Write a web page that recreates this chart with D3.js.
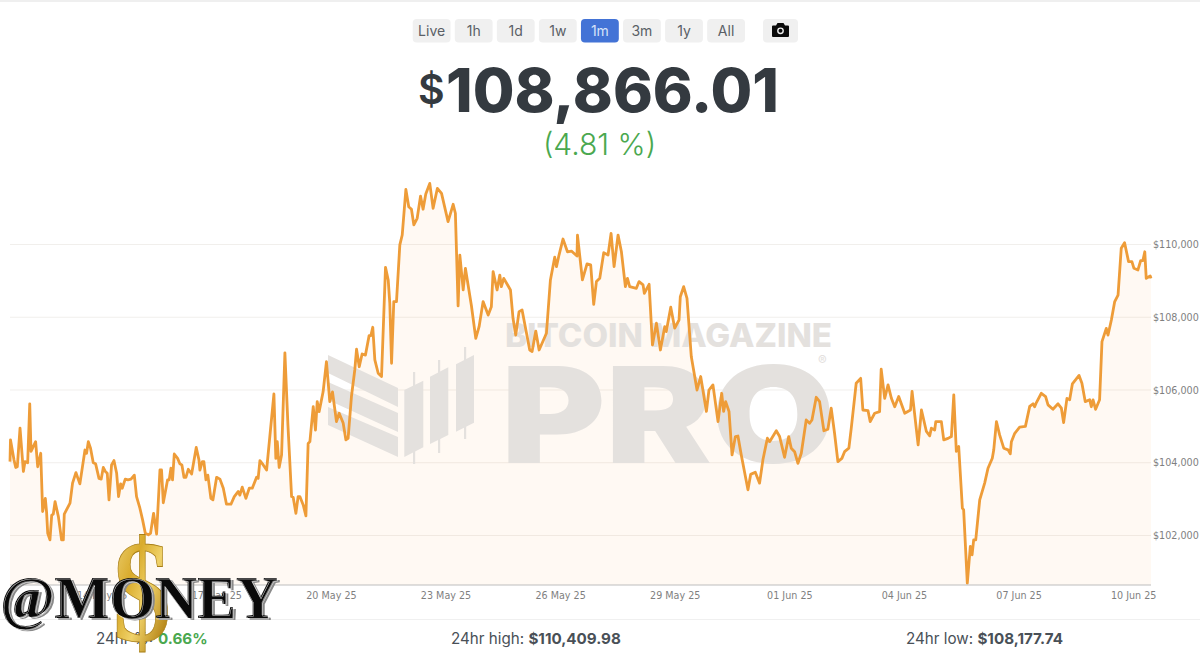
<!DOCTYPE html>
<html>
<head>
<meta charset="utf-8">
<script src="https://cdn.jsdelivr.net/npm/d3@7"></script>
<style>
  html, body { margin: 0; padding: 0; background: #fff; }
  svg { display: block; font-family: Inter, "Noto Sans", sans-serif; }
  .axis text { font-family: "DejaVu Sans", sans-serif; font-size: 9.6px; fill: #7f7f7f; }
  .axis .domain { display: none; }
</style>
</head>
<body>
<div id="chart"></div>
<script>
// hours since the first sample (11 May 25, 14:24 UTC)
const hours = [
  0, 0.3, 2.5, 3.6, 4.6, 6.3, 8.4, 9.4, 11.1, 12.4, 13.2, 16.1, 17.4, 19.3, 20.5, 22.2, 23, 23.7, 25.1, 26.2,
  27.2, 28.3, 30.4, 32.4, 33.5, 34.1, 37.7, 39.3, 41.4, 43.9, 47.1, 48.1, 49.2, 50.6, 52.3, 53.8, 55.9, 57.3, 58.6, 59.9,
  61.1, 62.2, 63.8, 65.3, 67, 68.2, 69.5, 70.5, 72.4, 74.1, 76, 78.1, 79.5, 81.6, 83.3, 85, 86.9, 88.3, 90.2, 92.1,
  94.2, 95.2, 96.3, 99, 100, 101.1, 102.1, 103.2, 105.3, 106.7, 108, 109.3, 110.5, 112, 114.1, 117, 118.7, 119.3, 120.8, 121.8,
  123.1, 124.3, 126.2, 127.5, 129.8, 131.9, 134, 136, 138.8, 140.9, 143.4, 144.4, 145.9, 148.2, 150.3, 152.2, 154.9, 155.9, 157, 159.1,
  161.2, 165.8, 167, 167.9, 169.1, 170.6, 172.7, 174.6, 176.9, 177.9, 179.6, 181, 182.1, 184.2, 185.9, 187.3, 188.4, 190.5, 191.9, 193,
  194.2, 196.7, 198.8, 200.9, 202.6, 205.1, 206.8, 209.3, 211, 212.4, 214.5, 216.6, 217.7, 219.4, 221.2, 223.3, 225.6, 226.7, 227.9, 229.2,
  231.3, 233.4, 235.9, 237.6, 238.6, 239.7, 241.1, 242.8, 244.9, 246.4, 248.7, 250.5, 252.2, 253.7, 255.8, 257.9, 259.5, 261.2, 263.7, 265.8,
  268.5, 271.1, 275.2, 278.4, 279.8, 281.5, 282.6, 284.7, 286.1, 289.9, 292.6, 294.7, 297.2, 300.4, 302.4, 303.5, 306, 307.7, 308.7, 310.2,
  314.4, 316, 317.7, 319.8, 321.7, 326.5, 328, 330.3, 332.4, 337, 339.5, 342.2, 343.3, 344.9, 347.4, 350.2, 352.7, 356.2, 356.5, 359.6,
  362.5, 364.8, 366.7, 368.4, 370.5, 373, 375.7, 377.6, 379.5, 382, 384.1, 386.6, 387.9, 389.3, 393.5, 395.2, 397.7, 398.5, 401.5, 403.6,
  406.1, 408.6, 411.3, 412.3, 415.1, 417.6, 420.3, 421.1, 423.2, 425.3, 428, 431.6, 433.9, 437.5, 439.1, 441.6, 444.8, 447.1, 448.3, 449.6,
  451.7, 453.6, 455.7, 457.3, 459.4, 463.6, 465.3, 468.2, 470.9, 473, 475.8, 477.2, 481.4, 483.5, 486.6, 489.2, 490.8, 492.9, 495, 497.1,
  500.2, 502.3, 503.8, 506.5, 508.6, 511.3, 513.8, 515.9, 518, 520.1, 522.6, 524.3, 527, 528.5, 531.6, 534.4, 535.8, 539, 540.4, 543.2,
  546.3, 547.3, 549.5, 551.6, 553.7, 555.8, 558.3, 562.1, 565.7, 566.7, 570.5, 572.6, 575.7, 577.8, 578.8, 580.9, 581.6, 585.1, 586.6, 589.3,
  591.4, 592.9, 594.5, 596, 598.3, 599.1, 601.4, 603.3, 604.4, 605.4, 606.7, 609.2, 612.3, 614.4, 617.1, 618, 619.7, 621.7, 624.3, 627,
  628.4, 629.1, 631.2, 634.3, 637.9, 640.6, 642.7, 643.7, 644.8, 647.9, 650.6, 652.1, 655.2, 658.4, 660.5, 661.9, 664, 665.7, 667.4, 671.6,
  673.4, 675.5, 678.3, 679.3, 680.4, 682, 684.5, 686, 688.7, 689.8, 691.9, 694, 696.1, 698.1, 700.2, 702.7, 704.8, 706.1, 708.6, 710.3,
  711.7, 712.9, 713.8, 716.3, 716.8
];

const prices = [
  104030, 104630, 104080, 103870, 103890, 104950, 103760, 104030, 104000, 105620, 104310, 104580, 103890, 104260, 102660, 103020, 102630, 102060, 101880, 102560,
  102590, 102930, 102520, 101880, 101880, 102590, 102890, 103440, 103730, 103420, 104350, 104260, 104580, 104400, 104000, 103970, 103570, 103550, 103870, 103760,
  103710, 102980, 103940, 104060, 103710, 103070, 103420, 103300, 103550, 103530, 103550, 103660, 103070, 102750, 102430, 102060, 102020, 102060, 102610, 102040,
  103800, 103800, 102900, 103530, 103530, 103850, 103530, 104240, 104120, 103970, 103940, 103600, 103600, 103820, 103690, 104420, 104080, 103800, 104030, 104030,
  103530, 103660, 103020, 102980, 103600, 103550, 103300, 102860, 102860, 103070, 103210, 103110, 103330, 103020, 103300, 103300, 103600, 103570, 104060, 103940,
  103800, 105890, 104120, 104580, 103870, 104210, 107020, 105040, 103070, 103050, 102610, 103070, 103070, 102840, 102540, 104530, 104580, 105540, 104900, 105680,
  105405, 105950, 106780, 105680, 105950, 105130, 105360, 105090, 104630, 104670, 105820, 106550, 107120, 106640, 106990, 106960, 107495, 107495, 107725, 106830,
  106460, 106370, 109370, 109025, 108384, 106735, 108430, 108430, 109990, 110260, 111515, 111040, 110970, 110540, 110720, 111330, 110970, 111390, 111680, 110995,
  111545, 111405, 110630, 111105, 110860, 108310, 109710, 108750, 109345, 108310, 107420, 107740, 108430, 108060, 108290, 109255, 108750, 109160, 108840, 109070,
  108750, 107970, 107510, 108155, 108200, 107100, 107060, 107620, 107100, 107560, 109025, 109650, 109390, 109710, 110150, 109800, 109820, 109685, 110260, 109025,
  109465, 109440, 108355, 108980, 109070, 109775, 109710, 110305, 109390, 110260, 109800, 108840, 109070, 108840, 108795, 108980, 108890, 108660, 108905, 107240,
  107835, 107100, 107740, 107605, 108275, 107700, 107925, 108565, 108840, 108520, 106920, 106000, 106370, 105410, 106000, 106140, 105130, 105910, 105410, 105680,
  105410, 104215, 104720, 104735, 104215, 103255, 103680, 103740, 103440, 104080, 104675, 104580, 104880, 104720, 104150, 104720, 104400, 104305, 103985, 104260,
  105175, 105085, 105175, 105800, 105680, 104880, 104920, 105500, 104810, 104030, 104120, 104305, 104400, 104950, 106185, 106320, 105450, 105435, 105130, 105360,
  105405, 106570, 105770, 106140, 105773, 105540, 105820, 105360, 105450, 105960, 104490, 105450, 104860, 104740, 104950, 104900, 105130, 105130, 104630, 104670,
  104720, 105865, 104310, 104445, 102750, 102705, 100690, 101700, 101470, 101880, 101880, 102980, 103440, 103850, 104125, 104350, 105130, 104765, 104400, 104355,
  104245, 104580, 104810, 104980, 105000, 105550, 105620, 105540, 105655, 105910, 105820, 105590, 105470, 105620, 105500, 105105, 105770, 105730, 106167, 106400,
  106185, 105680, 105730, 105540, 105730, 105470, 105730, 107330, 107695, 107510, 107925, 108430, 108610, 109895, 110050, 109530, 109530, 109345, 109300, 109556,
  109556, 109800, 109070, 109135, 109070
];

const xTickDates = ["2025-05-14", "2025-05-17", "2025-05-20", "2025-05-23", "2025-05-26", "2025-05-29", "2025-06-01", "2025-06-04", "2025-06-07", "2025-06-10"];
const yTicks = [102000, 104000, 106000, 108000, 110000];
const ranges = ["Live", "1h", "1d", "1w", "1m", "3m", "1y", "All"];

const width = 1200, height = 655;
const plotLeft = 10, plotRight = 1151, plotTop = 244.5, plotBottom = 585;
const start = Date.UTC(2025, 4, 11, 14, 24);
const hourMs = 3600e3;
const lineData = hours.map((h, i) => ({ t: new Date(start + h * hourMs), v: prices[i] }));

const svg = d3.select("#chart").append("svg")
  .attr("width", width)
  .attr("height", height)
  .attr("viewBox", `0 0 ${width} ${height}`);

const defs = svg.append("defs");
const gold = defs.append("linearGradient").attr("id", "gold")
  .attr("x1", 0).attr("y1", 0).attr("x2", 1).attr("y2", 1);
[["0%", "#f3dc8a"], ["35%", "#d9ab2c"], ["55%", "#f0d269"], ["80%", "#b98a1c"], ["100%", "#e4bf4b"]]
  .forEach(s => gold.append("stop").attr("offset", s[0]).attr("stop-color", s[1]));

svg.append("rect").attr("width", width).attr("height", 2).attr("fill", "#efefef");

// range buttons
const btnScale = d3.scaleBand().domain(ranges).range([412.7, 745]).paddingInner(0.1).paddingOuter(0);
const buttons = svg.append("g").selectAll("g").data(ranges).enter().append("g")
  .attr("transform", d => `translate(${btnScale(d)},19)`);
buttons.append("rect")
  .attr("width", btnScale.bandwidth()).attr("height", 23.5).attr("rx", 4)
  .attr("fill", d => d === "1m" ? "#4373d6" : "#f0f0f0");
buttons.append("text")
  .attr("x", btnScale.bandwidth() / 2).attr("y", 16.5)
  .attr("text-anchor", "middle").attr("font-size", 14)
  .attr("fill", d => d === "1m" ? "#d6e2f8" : "#5a5f66")
  .text(d => d);

// camera button
const cam = svg.append("g").attr("transform", "translate(763,19)");
cam.append("rect").attr("width", 35).attr("height", 23.5).attr("rx", 4).attr("fill", "#f0f0f0");
cam.append("path").attr("d", "M10 6.5h3l1.5-2.5h6l1.5 2.5h3a1 1 0 0 1 1 1v9.5a1 1 0 0 1-1 1h-15a1 1 0 0 1-1-1v-9.5a1 1 0 0 1 1-1z").attr("fill", "#0b0b0b");
cam.append("circle").attr("cx", 17.5).attr("cy", 11.8).attr("r", 3.4).attr("fill", "#f0f0f0");
cam.append("circle").attr("cx", 17.5).attr("cy", 11.8).attr("r", 2).attr("fill", "#0b0b0b");

// headline price
svg.append("text").attr("x", 418).attr("y", 104)
  .attr("font-size", 41).attr("font-weight", 600).attr("fill", "#343a40").text("$");
svg.append("text").attr("x", 446).attr("y", 112)
  .attr("font-size", 60).attr("font-weight", 800).attr("fill", "#343a40")
  .attr("textLength", 333).attr("lengthAdjust", "spacingAndGlyphs").text("108,866.01");
svg.append("text").attr("x", 599.5).attr("y", 155)
  .attr("text-anchor", "middle").attr("font-size", 30).attr("font-weight", 300).attr("fill", "#4aa84f").text("(4.81 %)");

const x = d3.scaleUtc().domain([new Date(start), new Date(start + 716.8 * hourMs)]).range([plotLeft, plotRight]);
const y = d3.scaleLinear().domain([100639, 110000]).range([plotBottom, plotTop]);

// axes and grid
const yAxis = d3.axisRight(y).tickValues(yTicks).tickSize(0).tickPadding(0)
  .tickFormat(d => "$" + d3.format(",")(d));
svg.append("g").attr("class", "axis").attr("transform", `translate(${plotRight + 2},0)`).call(yAxis);

svg.append("g").selectAll("line").data(yTicks).enter().append("line")
  .attr("x1", plotLeft).attr("x2", plotRight)
  .attr("y1", d => y(d)).attr("y2", d => y(d))
  .attr("stroke", "#f1efec");

const area = d3.area().x(d => x(d.t)).y0(plotBottom).y1(d => y(d.v));
svg.append("path").datum(lineData).attr("d", area).attr("fill", "#f79a2e").attr("fill-opacity", 0.06);

// watermark, over the fill and under the line
const wm = svg.append("g").attr("fill", "#e4e1de");
wm.append("text").attr("x", 505).attr("y", 347).attr("font-size", 32).attr("font-weight", 800)
  .attr("textLength", 327).attr("lengthAdjust", "spacingAndGlyphs").text("BITCOIN MAGAZINE");
wm.append("text").attr("x", 501).attr("y", 463).attr("font-size", 134).attr("font-weight", 900)
  .attr("textLength", 334).attr("lengthAdjust", "spacingAndGlyphs").text("PRO");
wm.append("text").attr("x", 818).attr("y", 365).attr("font-size", 13).text("®");
["M328 355L398 388V407L328 373Z", "M328 382L398 413V432L328 400Z", "M328 407L398 437V457L328 425Z",
 "M404.3 390L423.3 380.7V447.3L404.3 457Z", "M430 376.7L448.3 367.3V435L430 444Z", "M456 364.3L474 355V422.7L456 431.7Z"]
  .forEach(d => wm.append("path").attr("d", d));
[[414, 372, 464], [439, 360, 453], [465, 347, 439]].forEach(w => {
  wm.append("rect").attr("x", w[0] - 1).attr("y", w[1]).attr("width", 2.2).attr("height", w[2] - w[1]);
});

const line = d3.line().x(d => x(d.t)).y(d => y(d.v));
svg.append("path").datum(lineData).attr("d", line)
  .attr("fill", "none").attr("stroke", "#ee9c38").attr("stroke-width", 2.8).attr("stroke-linejoin", "round");

const parseDay = d3.utcParse("%Y-%m-%d");
const xAxis = d3.axisBottom(x).tickValues(xTickDates.map(parseDay)).tickSize(0).tickPadding(7)
  .tickFormat(d3.utcFormat("%d %b %y"));
svg.append("g").attr("class", "axis").attr("transform", `translate(0,${plotBottom})`).call(xAxis);
svg.append("line").attr("x1", plotLeft).attr("x2", plotRight).attr("y1", plotBottom).attr("y2", plotBottom).attr("stroke", "#bdbdbd");

// footer
svg.append("line").attr("x1", 0).attr("x2", width).attr("y1", 619.5).attr("y2", 619.5).attr("stroke", "#f0f0f0");
const foot = svg.append("g").attr("font-size", 15.2).attr("fill", "#495057");
foot.append("text").attr("x", 96).attr("y", 644).text("24hr %:");
foot.append("text").attr("x", 158).attr("y", 644).attr("font-weight", 700).attr("fill", "#4aa84f").text("0.66%");
const hi = foot.append("text").attr("x", 451).attr("y", 644);
hi.append("tspan").text("24hr high: ");
hi.append("tspan").attr("font-weight", 700).text("$110,409.98");
const lo = foot.append("text").attr("x", 906).attr("y", 644);
lo.append("tspan").text("24hr low: ");
lo.append("tspan").attr("font-weight", 700).text("$108,177.74");

// pasted-on @MONEY sticker
const sticker = svg.append("g").attr("font-family", '"Liberation Serif", serif').attr("font-weight", 700);
sticker.append("text").attr("x", 113).attr("y", 641)
  .attr("font-size", 146).attr("textLength", 58).attr("lengthAdjust", "spacingAndGlyphs")
  .attr("fill", "url(#gold)").attr("stroke", "#a87f18").attr("stroke-width", 0.8).text("$");
const stickerText = (dx, dy) => sticker.append("text")
  .attr("x", dx).attr("y", 618 + dy)
  .attr("font-size", 62).attr("textLength", 278).attr("lengthAdjust", "spacingAndGlyphs")
  .text("@MONEY");
stickerText(3, 2).attr("fill", "#8a8a8a");
stickerText(0, 0).attr("fill", "#0a0a0a");
stickerText(1, 1).attr("fill", "none").attr("stroke", "#fff").attr("stroke-width", 0.45).attr("stroke-opacity", 0.8);
</script>
</body>
</html>
